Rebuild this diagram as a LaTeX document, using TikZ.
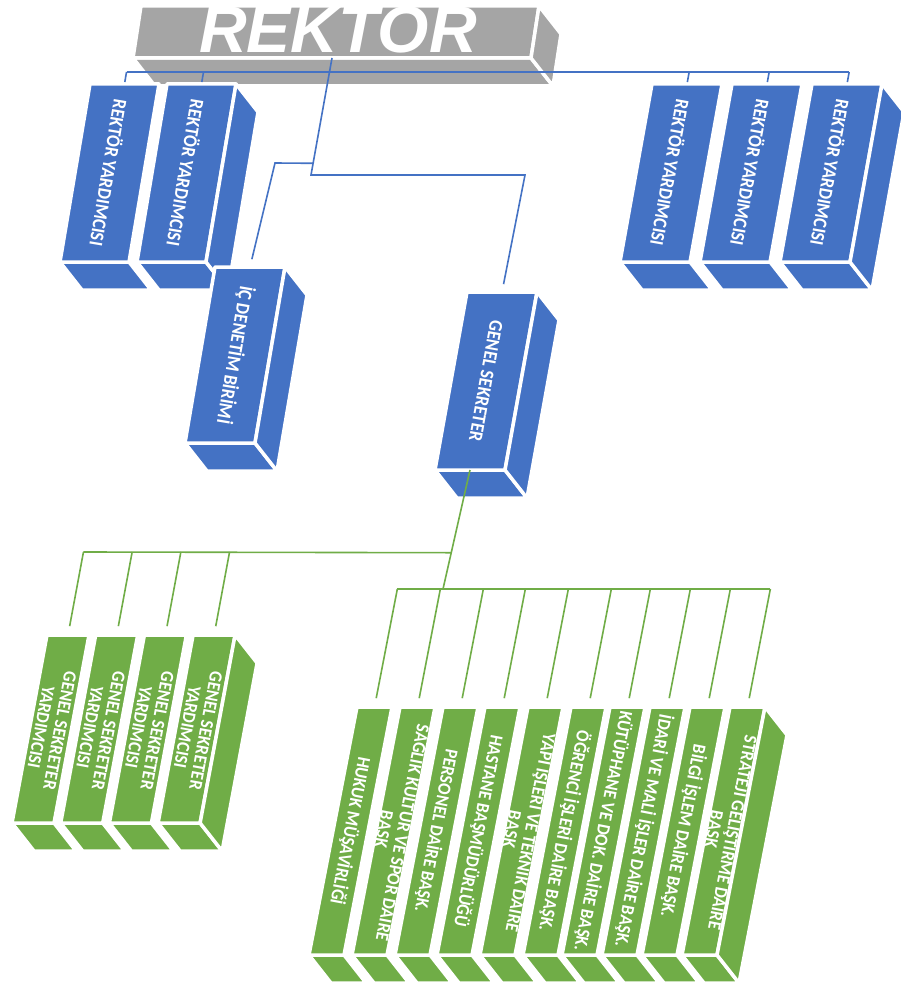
\documentclass[tikz,border=0pt]{standalone}
\usepackage{fontspec}
\newfontfamily\boxfont{Carlito}
\newfontfamily\titlefont{Liberation Sans}
\usetikzlibrary{calc}
\pgfdeclarelayer{front}
\pgfsetlayers{main,front}

\definecolor{orgblue}{RGB}{68,114,196}
\definecolor{orggreen}{RGB}{112,173,71}
\definecolor{orggray}{RGB}{165,165,165}

\tikzset{
  face/.style={draw=white, line width=3.5pt, line join=round},
  boxtext/.style={text=white, font=\boxfont\bfseries\fontsize{19.5}{21}\selectfont, align=center, inner sep=0pt},
  blueline/.style={draw=orgblue, line width=1.6pt},
  greenline/.style={draw=orggreen, line width=1.6pt},
}
\def\dpx{22}
\def\dpy{28}
\def\barrise{12}
\def\txtscale{0.9}

% box: name, bottom-left x, bottom-left y, width, height, skew, colour, text
\newcommand{\orgbox}[8]{%
  \coordinate (#1-bl) at (#2,#3);
  \coordinate (#1-br) at ({#2+#4},#3);
  \coordinate (#1-tr) at ({#2+#4+#6},{#3-#5});
  \coordinate (#1-tl) at ({#2+#6},{#3-#5});
  \coordinate (#1-top) at ($(#1-tl)!0.5!(#1-tr)$);
  \coordinate (#1-bot) at ($(#1-bl)!0.5!(#1-br)$);
  \coordinate (#1-up) at ($(#1-top)+({#6/#5*\barrise},-\barrise)$);
  \filldraw[face, fill=#7] (#1-bl) -- (#1-br) -- ($(#1-br)+(\dpx,\dpy)$) -- ($(#1-bl)+(\dpx,\dpy)$) -- cycle;
  \filldraw[face, fill=#7] (#1-bl) -- (#1-br) -- (#1-tr) -- (#1-tl) -- cycle;
  \begin{pgfonlayer}{front}
    \node[boxtext, rotate={-90-atan(#6/#5)}, xscale=\txtscale] (#1) at ($(#1-bl)!0.5!(#1-tr)$) {#8};
  \end{pgfonlayer}
}
% right side face of the last box of a group
\newcommand{\orgside}[2]{%
  \filldraw[face, fill=#2] (#1-tr) -- ($(#1-tr)+(\dpx,\dpy)$) -- ($(#1-br)+(\dpx,\dpy)$) -- (#1-br) -- cycle;
}

\begin{document}
\begin{tikzpicture}[x=1pt, y=-1pt]
  \useasboundingbox[fill=white] (0,0) rectangle (901,992);

  % rektor
  \orgbox{rek}{133}{58}{398}{52}{8}{orggray}{}
  \orgside{rek}{orggray}
  \begin{pgfonlayer}{front}
    \node[text=white, inner sep=0pt, font=\titlefont\bfseries\itshape\fontsize{66}{72}\selectfont] (rektor) at (338,30) {REKTOR};
  \end{pgfonlayer}

  % rektor yardimcilari
  \orgbox{ry1}{60}{262}{69}{178}{30}{orgblue}{REKTÖR YARDIMCISI}
  \orgbox{ry2}{137}{262}{69}{178}{30}{orgblue}{REKTÖR YARDIMCISI}
  \orgside{ry2}{orgblue}
  \orgbox{ry3}{620}{262}{70}{178}{32}{orgblue}{REKTÖR YARDIMCISI}
  \orgbox{ry4}{700}{262}{70}{178}{32}{orgblue}{REKTÖR YARDIMCISI}
  \orgbox{ry5}{780}{262}{70}{178}{32}{orgblue}{REKTÖR YARDIMCISI}
  \orgside{ry5}{orgblue}

  \orgbox{ic}{185}{443}{70}{176}{30}{orgblue}{İÇ DENETİM BİRİMİ}
  \orgside{ic}{orgblue}
  \orgbox{gs}{435}{470}{70}{178}{32}{orgblue}{GENEL SEKRETER}
  \orgside{gs}{orgblue}

  % genel sekreter yardimcilari
  \def\barrise{83}
  \def\txtscale{0.92}
  \tikzset{boxtext/.append style={font=\boxfont\bfseries\fontsize{18.5}{19}\selectfont}}
  \foreach \i/\x in {1/12,2/60.7,3/109.4,4/158.1}{
    \orgbox{gsy\i}{\x}{823}{42}{188}{35}{orggreen}{GENEL SEKRETER\\YARDIMCISI}
  }
  \orgside{gsy4}{orggreen}

  % daire baskanliklari
  \def\barrise{118}
  \orgbox{db1}{309}{955}{35}{248}{48}{orggreen}{HUKUK MÜŞAVİRLİĞİ}
  \orgbox{db2}{352}{955}{35}{248}{48}{orggreen}{SAĞLIK KÜLTÜR VE SPOR DAİRE\\BAŞK}
  \orgbox{db3}{395}{955}{35}{248}{48}{orggreen}{PERSONEL DAİRE BAŞK.}
  \orgbox{db4}{437}{955}{35}{248}{48}{orggreen}{HASTANE BAŞMÜDÜRLÜĞÜ}
  \orgbox{db5}{480}{955}{35}{248}{48}{orggreen}{YAPI İŞLERİ VE TEKNİK DAİRE\\BAŞK}
  \orgbox{db6}{523}{955}{35}{248}{48}{orggreen}{ÖĞRENCİ İŞLERİ DAİRE BAŞK.}
  \orgbox{db7}{562}{955}{35}{248}{48}{orggreen}{KÜTÜPHANE VE DOK. DAİRE BAŞK.}
  \orgbox{db8}{602}{955}{35}{248}{48}{orggreen}{İDARİ VE MALİ İŞLER DAİRE BAŞK.}
  \orgbox{db9}{642}{955}{35}{248}{48}{orggreen}{BİLGİ İŞLEM DAİRE BAŞK.}
  \orgbox{db10}{682}{955}{35}{248}{48}{orggreen}{STRATEJİ GELİŞTİRME DAİRE\\BAŞK}
  \orgside{db10}{orggreen}

  % blue connectors
  \coordinate (jgs) at (311,175);
  \coordinate (jgsr) at (525,175);
  \coordinate (jic) at ($(rek-bot)!0.9!(jgs)$);
  \coordinate (jicl) at (275,163);
  \draw[blueline] (ry1-up) -- (ry5-up);
  \foreach \n in {ry1,ry2,ry3,ry4,ry5}
    \draw[blueline, shorten >=2pt] (\n-up) -- (\n-top);
  \draw[blueline, shorten >=8pt] (rek-bot) -- (jgs) -- (jgsr) -- (gs-top);
  \draw[blueline, shorten >=8pt] (jic) -- (jicl) -- (ic-top);

  % green connectors
  \coordinate (jgr) at (443,589);
  \coordinate (jgl) at ($(gs-bot)!0.695!(jgr)$);
  \draw[greenline] (gs-bot) -- (jgr);
  \draw[greenline] (gsy1-up) -- (jgl);
  \draw[greenline] (db1-up) -- (db10-up);
  \foreach \n in {gsy1,gsy2,gsy3,gsy4,db1,db2,db3,db4,db5,db6,db7,db8,db9,db10}
    \draw[greenline, shorten >=9pt] (\n-up) -- (\n-top);
\end{tikzpicture}
\end{document}
